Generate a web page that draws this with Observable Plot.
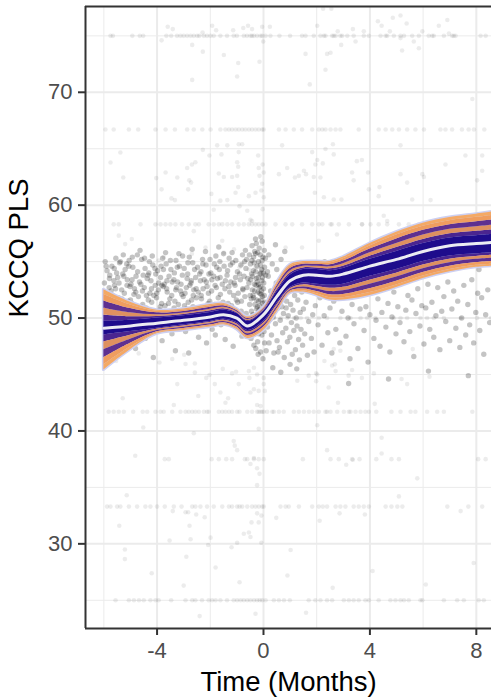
<!DOCTYPE html>
<html><head><meta charset="utf-8">
<script src="https://cdn.jsdelivr.net/npm/d3@7"></script>
<script src="https://cdn.jsdelivr.net/npm/@observablehq/plot@0.6"></script>
<style>body{margin:0;background:#fff}svg{display:block}</style>
</head><body><div id="chart"></div>
<script>
// ---------- axes / ticks ----------
const xDomain = [-6.69, 8.57];
const yDomain = [22.5, 77.6];
const xTicks = [-4, 0, 4, 8];
const xMinor = [-6, -2, 2, 6];
const yTicks = [30, 40, 50, 60, 70];
const yMinor = [25, 35, 45, 55, 65, 75];

// ---------- model curve (knots) ----------
const knotT   = [-6,-5,-4,-3,-2,-1.5,-1,-0.6,0,0.5,1,1.5,2,2.5,3,4,5,6,7,8,8.6];
const meanV   = [49.1,49.3,49.55,49.8,50.1,50.3,50.0,49.3,50.3,51.9,53.3,53.8,53.8,53.7,53.9,54.6,55.2,55.9,56.4,56.6,56.7];
const outerHi = [52.5,51.4,50.7,50.8,51.2,51.3,50.8,50.1,50.9,53.1,54.7,55.0,55.0,55.0,55.4,56.6,57.6,58.4,58.9,59.2,59.4];
const outerLo = [45.4,47.2,48.6,48.9,49.2,49.4,49.0,48.2,48.9,50.5,52.2,52.3,52.0,51.6,51.6,52.0,52.7,53.5,54.1,54.5,54.6];
const coreHi  = [49.7,49.8,50.0,50.2,50.5,50.7,50.4,49.7,50.6,52.3,53.8,54.3,54.3,54.2,54.4,55.2,55.9,56.6,57.1,57.3,57.4];
const coreLo  = [48.5,48.8,49.1,49.4,49.7,49.9,49.6,48.9,49.7,51.3,52.7,53.1,53.0,52.9,53.0,53.7,54.3,55.0,55.5,55.7,55.8];
// draw-stripe boundaries above the core (inner -> outer)
const up1 = [50.26,50.12,50.14,50.32,50.64,50.82,50.48,49.78,50.66,52.46,53.98,54.44,54.44,54.36,54.6,55.48,56.24,56.96,57.46,57.68,57.8];
const up2 = [50.88,50.47,50.29,50.45,50.79,50.95,50.57,49.87,50.73,52.64,54.18,54.59,54.59,54.54,54.82,55.79,56.61,57.36,57.86,58.1,58.24];
const up3 = [51.52,50.84,50.46,50.59,50.96,51.09,50.66,49.96,50.8,52.82,54.39,54.76,54.76,54.72,55.05,56.11,57.01,57.77,58.27,58.54,58.7];
const up4 = [52.08,51.16,50.6,50.71,51.1,51.21,50.74,50.04,50.86,52.98,54.57,54.9,54.9,54.88,55.25,56.39,57.35,58.13,58.63,58.92,59.1];
// draw-stripe boundaries below the core (inner -> outer)
const lo1 = [47.88,48.48,49.0,49.3,49.6,49.8,49.48,48.76,49.54,51.14,52.6,52.94,52.8,52.64,52.72,53.36,53.98,54.7,55.22,55.46,55.56];
const lo2 = [47.2,48.13,48.89,49.19,49.49,49.69,49.35,48.61,49.36,50.96,52.49,52.76,52.58,52.35,52.41,52.99,53.63,54.37,54.91,55.2,55.3];
const lo3 = [46.49,47.76,48.78,49.08,49.38,49.58,49.21,48.45,49.18,50.78,52.38,52.58,52.35,52.06,52.09,52.6,53.26,54.03,54.59,54.92,55.02];
const lo4 = [45.87,47.44,48.68,48.98,49.28,49.48,49.09,48.31,49.02,50.62,52.28,52.42,52.15,51.8,51.81,52.26,52.94,53.73,54.31,54.68,54.78];
const stripeColors = ["#4a2590", "#de9060", "#5e3090", "#ef9d5f", "#f4a965"];

// ---------- observations on discrete score levels ----------
const rowLevels = [75, 66.7, 58.3, 50, 41.7, 37.5, 33.3, 25];
const row75T  = [-5.75,-5.66,-4.93,-4.65,-4.52,-3.65,-3.47,-3.25,-3.12,-3.0,-2.87,-2.74,-2.62,-2.49,-2.41,-2.24,-2.12,-1.99,-1.87,-1.62,-1.37,-1.12,-1.0,-0.74,-0.62,-0.49,-0.43,-0.36,-0.24,-0.11,-0.05,0.08,0.26,0.6,1.0,1.45,1.58,1.89,2.14,2.27,2.33,2.58,2.64,2.71,2.89,2.96,3.15,3.39,3.77,3.96,4.4,4.59,4.65,4.9,5.15,5.28,5.59,5.84,6.21,6.34,6.4,6.78,7.09,7.15,7.22,8.16,8.35];
const row667T = [-5.94,-5.63,-5.06,-4.71,-4.06,-3.68,-3.33,-2.87,-2.62,-2.3,-1.99,-1.62,-1.43,-1.3,-1.18,-1.05,-0.93,-0.8,-0.68,-0.55,-0.43,-0.3,-0.18,-0.05,0.01,0.58,0.83,1.14,1.45,1.83,2.08,2.21,2.33,2.52,2.71,2.89,3.58,4.33,4.59,4.84,5.09,5.4,5.71,6.03,6.65,6.84,7.09,7.46,7.71,7.91,8.3];
const row583T = [-5.63,-5.44,-4.62,-4.06,-3.87,-3.68,-3.5,-3.31,-3.06,-2.81,-2.56,-2.43,-2.06,-1.87,-1.68,-1.55,-1.36,-1.18,-0.93,-0.74,-0.55,-0.43,-0.3,-0.18,-0.05,0.08,0.45,0.83,1.08,1.45,1.83,2.08,2.21,2.52,2.83,3.21,3.71,4.02,4.33,4.65,5.09,5.46,5.84,6.09,6.59,6.84,7.22,7.59,7.85,8.22,8.47];
const row50T  = [-5.95,-5.7,-5.45,-5.2,-4.9,-4.6,-4.3,-4.0,-3.7,-3.4,-3.1,-2.8,-2.5,-2.2,-1.9,-1.6,-1.3,-1.0,-0.75,-0.5,-0.35,-0.2,-0.1,-0.02,0.05,0.2,0.4,0.65,0.9,1.15,1.4,1.64,2.08,2.39,2.89,3.27,3.65,3.9,4.21,4.9,5.15,5.4,5.9,6.15,6.4,6.78,7.41,8.03,8.55];
const row417T = [-5.82,-5.63,-5.44,-5.25,-4.9,-4.54,-4.37,-4.06,-3.87,-3.75,-3.43,-3.12,-2.93,-2.81,-2.68,-2.56,-2.43,-2.24,-2.12,-2.06,-1.68,-1.55,-1.43,-1.3,-1.18,-0.99,-0.9,-0.61,-0.43,-0.24,-0.18,-0.11,-0.05,0.01,0.14,0.33,0.39,0.58,0.76,1.14,1.33,1.52,1.71,1.89,2.08,2.33,2.39,2.52,2.77,3.02,3.21,3.27,3.46,3.65,3.83,3.96,4.24,4.81,5.15,5.53,5.71,6.15,6.53,6.78,7.85];
const row375T = [-3.71,-3.56,-1.95,-1.68,-1.4,-1.18,-0.7,-0.61,-0.36,-0.18,0.01,1.48,2.52,2.83,3.33,3.61,4.24,4.81,5.09,8.07,8.35];
const row333T = [-5.88,-5.75,-5.5,-5.38,-5.06,-4.75,-4.44,-4.25,-4.0,-3.71,-3.37,-3.08,-2.68,-2.56,-2.37,-2.12,-1.87,-1.55,-1.3,-1.18,-0.99,-0.9,-0.8,-0.61,-0.43,-0.3,-0.18,-0.05,0.01,0.64,0.83,0.95,1.33,1.83,2.08,2.23,2.39,2.71,2.89,3.08,3.39,3.58,3.77,3.96,4.59,4.81,5.03,5.22,6.91,7.7,8.22];
const row25T  = [-5.56,-5.06,-4.87,-4.68,-4.5,-4.25,-4.06,-3.94,-3.47,-2.93,-2.68,-2.56,-2.31,-2.06,-1.93,-1.8,-1.62,-1.37,-1.12,-0.99,-0.86,-0.74,-0.61,-0.49,-0.36,-0.24,-0.14,-0.05,0.08,0.39,0.58,0.77,0.99,1.7,1.95,2.14,2.39,2.58,3.02,3.21,3.39,3.58,3.83,3.96,4.33,4.77,4.96,5.15,5.28,5.46,5.9,5.97,6.78,7.28,7.53,8.09,8.28];
const rowTimes = [row75T, row667T, row583T, row50T, row417T, row375T, row333T, row25T];

// ---------- scattered observations off the levels [time, score] ----------
const scatterPts = [
[-3.6,75.8],[-3.41,75.6],[-3.83,74.6],[-2.68,74.2],[-2.28,73.6],[-2.68,71.1],[-1.93,75.9],[-1.78,75.5],[-2.29,75.3],[-1.49,73.3],[-1.14,75.5],[-0.95,72.6],[-0.99,71.4],[-0.76,75.7],[-0.58,75.9],[-0.43,75.6],[-0.05,75.8],[-0.01,74.5],[-0.15,72.7],[0.24,75.8],
[2.24,77.4],[2.55,77.4],[2.02,75.9],[1.58,73.4],[1.74,70.7],[2.33,72.0],[2.39,73.4],[2.52,73.5],[2.79,75.4],[2.92,74.2],[3.36,75.6],[3.46,74.5],[3.77,75.4],[4.3,76.3],[4.44,75.9],[4.86,76.6],[5.15,76.8],[5.38,76.1],[4.75,75.4],[5.15,74.8],[5.21,73.7],[5.65,74.5],[5.84,73.9],[5.97,75.4],[6.59,75.9],[6.91,76.4],[6.97,75.2],[7.85,69.4],
[-5.38,64.67],[-5.75,63.78],[-5.27,62.45],[-4.03,62.4],[-3.68,62.9],[-3.83,61.4],[-3.46,60.6],[-3.33,60.45],[-3.24,62.45],[-2.87,63.3],[-2.72,62.0],[-2.79,62.2],[-2.69,63.6],[-2.56,63.8],[-2.83,61.4],[-2.28,64.9],[-2.03,64.4],[-1.74,65.3],[-1.36,65.3],[-1.58,64.5],[-1.96,61.0],[-1.87,59.6],[-1.68,62.8],[-1.49,62.5],[-1.18,62.5],[-1.62,60.4],[-1.36,60.45],
[-0.93,65.4],[-0.8,65.4],[-0.93,64.7],[-0.99,63.8],[-0.95,63.4],[-0.99,62.6],[-0.95,61.6],[-1.05,61.1],[-0.9,59.9],[-0.55,60.8],[-0.3,61.1],[-0.61,59.5],[-0.49,58.7],[-0.43,58.6],[-0.2,64.4],[-0.18,63.3],[-0.15,62.6],[-0.03,63.6],[0.01,62.9],[-0.05,61.9],[-0.08,61.3],[0.01,60.7],[-0.03,59.65],
[0.7,65.3],[0.89,63.3],[0.58,62.75],[1.18,62.45],[1.33,62.6],[1.52,63.05],[1.6,62.75],[1.89,62.5],[1.95,63.6],[1.83,64.7],[2.02,64.0],[2.23,63.7],[2.61,65.4],[2.64,64.5],[2.33,64.97],[2.14,62.45],[1.93,61.1],[2.27,60.7],[2.64,60.5],[2.93,60.5],[3.39,62.2],[3.33,62.9],[3.51,63.9],[3.7,64.0],[3.93,62.9],[3.96,61.4],[4.36,61.6],[4.33,60.8],
[5.15,65.3],[5.15,62.75],[5.4,62.0],[5.97,62.75],[6.03,62.5],[5.59,60.5],[6.28,60.45],[6.84,63.6],[7.59,64.4],[8.22,64.4],[8.22,63.05],[8.03,62.2],[4.52,59.06],[4.65,58.6],[3.7,58.3],[2.76,57.4],[2.57,58.3],[2.08,56.85],[0.83,56.25],[1.45,56.25],
[-5.44,57.3],[-5.2,56.55],[-4.95,57.0],[-3.75,55.4],[-3.94,55.1],[-2.69,55.7],[-2.62,57.7],[-2.18,56.25],[-1.55,56.85],[-1.49,55.8],[-1.11,56.1],[-0.9,54.5],[-0.8,54.8],[-0.55,54.3],[-0.3,54.5],[-0.05,54.3],
[-4.69,46.87],[-5.54,46.2],[-3.91,46.07],[-3.43,46.37],[-2.98,46.75],[-2.93,45.93],[-2.58,45.98],[-2.58,45.18],[-3.24,44.15],[-3.37,42.3],[-4.52,40.3],[-4.82,37.8],[-5.29,42.9],[-5.14,34.3],[-5.42,31.6],[-5.21,29.5],[-5.21,28.65],
[-2.45,43.1],[-2.15,44.7],[-2.03,44.95],[-1.83,44.15],[-1.62,43.4],[-1.43,42.5],[-1.33,42.9],[-1.53,45.5],[-1.18,45.1],[-1.03,45.25],[-0.93,44.15],[-0.53,44.7],[-0.36,45.6],[-0.24,45.0],[-0.55,45.3],[-0.49,43.4],[-0.36,43.7],[-0.18,43.55],[-0.24,42.3],[0.01,44.7],[0.01,44.15],[0.05,43.55],
[-2.62,39.8],[-1.12,39.1],[-1.08,38.7],[-0.99,38.3],[-0.36,37.6],[-0.49,37.07],[-0.24,36.7],[-0.15,36.2],[-0.24,35.2],[-0.11,42.2],[-0.18,40.2],
[-3.41,32.9],[-2.93,32.8],[-2.83,32.8],[-2.53,32.6],[-2.21,32.35],[-2.78,31.6],[-2.9,28.85],[-3.53,30.3],[-2.74,30.4],[-2.08,29.9],[-1.99,30.55],[-1.2,29.7],[-0.99,30.1],[-0.74,30.9],[-0.45,31.9],[-0.18,31.9],[-0.24,32.7],[-0.55,31.0],[-0.49,30.6],[-0.08,30.1],[-0.08,32.5],[0.48,32.3],[1.02,29.45],[2.11,32.05],[2.86,32.7],[3.81,32.6],[5.09,34.2],[7.41,32.9],
[1.27,44.45],[1.7,44.9],[1.98,45.1],[1.98,44.4],[2.45,43.85],[2.29,46.2],[2.58,45.8],[2.68,45.9],[2.71,45.3],[2.89,47.1],[2.64,47.25],[2.8,42.5],[3.2,44.9],[3.33,45.4],[3.7,44.7],[4.15,45.1],[4.18,42.4],[4.44,39.4],[4.44,38.0],[2.39,38.3],[3.11,37.0],[3.36,37.45],[5.19,44.6],[5.4,44.15],[5.61,47.25],[5.78,35.8],[6.24,44.8],[2.02,40.5],[2.02,45.0],
[-4.2,27.4],[-3.0,26.3],[-1.8,27.9],[-0.9,26.6],[-0.3,23.8],[0.9,27.2],[2.6,26.1],[4.1,27.6],[6.1,26.4],[7.9,28.3],[-2.4,23.6],[1.6,23.9]
];

// ---------- dense cloud of observations [time, score] ----------
const cloudPts = [
[-5.98,53.1],[-5.93,51.6],[-5.88,54.2],[-5.84,50.8],[-5.8,52.7],[-5.95,55.0],[-5.78,53.8],[-5.9,49.9],[-5.86,47.6],[-5.76,51.9],
[-5.73,52.4],[-5.7,54.6],[-5.66,50.6],[-5.62,53.3],[-5.58,51.2],[-5.55,55.3],[-5.68,48.9],[-5.6,52.9],[-5.52,54.0],[-5.64,46.8],
[-5.48,53.6],[-5.45,51.8],[-5.41,54.9],[-5.37,50.3],[-5.33,52.5],[-5.29,53.9],[-5.44,49.6],[-5.27,55.6],[-5.35,51.1],[-5.31,47.9],
[-5.23,52.2],[-5.2,54.3],[-5.16,50.9],[-5.12,53.4],[-5.09,51.5],[-5.05,55.1],[-5.18,48.4],[-5.02,52.8],[-5.14,54.8],[-5.07,50.1],
[-4.98,53.0],[-4.95,51.3],[-4.91,54.5],[-4.87,52.1],[-4.83,49.4],[-4.79,53.7],[-4.93,55.4],[-4.77,50.7],[-4.85,52.6],[-4.81,47.3],
[-4.73,54.1],[-4.7,51.9],[-4.66,53.2],[-4.62,50.4],[-4.58,55.2],[-4.55,52.4],[-4.68,49.1],[-4.52,53.8],[-4.6,51.0],[-4.64,56.0],
[-4.48,52.7],[-4.45,54.4],[-4.41,50.9],[-4.37,53.5],[-4.33,51.6],[-4.29,55.0],[-4.44,48.2],[-4.27,52.2],[-4.35,49.8],[-4.31,54.0],
[-4.23,53.3],[-4.2,51.4],[-4.16,54.7],[-4.12,52.0],[-4.09,50.2],[-4.05,53.9],[-4.18,55.5],[-4.02,51.8],[-4.14,46.5],[-4.07,52.9],
[-3.98,54.2],[-3.95,52.5],[-3.91,50.7],[-3.87,53.6],[-3.83,51.3],[-3.79,55.3],[-3.93,49.3],[-3.77,52.8],[-3.85,54.6],[-3.81,48.0],
[-3.73,53.0],[-3.7,51.1],[-3.66,54.8],[-3.62,52.3],[-3.58,50.0],[-3.55,53.7],[-3.68,55.8],[-3.52,51.7],[-3.6,49.0],[-3.64,52.6],
[-3.48,54.3],[-3.45,52.0],[-3.41,50.5],[-3.37,53.4],[-3.33,51.5],[-3.29,55.1],[-3.44,48.6],[-3.27,52.7],[-3.35,54.0],[-3.31,47.1],
[-3.23,53.2],[-3.2,51.2],[-3.16,54.6],[-3.12,52.4],[-3.09,50.3],[-3.05,53.8],[-3.18,55.7],[-3.02,51.9],[-3.14,49.5],[-3.07,52.1],
[-2.98,54.4],[-2.95,52.2],[-2.91,50.8],[-2.87,53.5],[-2.83,51.4],[-2.79,55.4],[-2.93,48.8],[-2.77,52.9],[-2.85,53.9],[-2.81,46.9],
[-2.73,53.1],[-2.7,51.6],[-2.66,54.9],[-2.62,52.5],[-2.58,50.1],[-2.55,53.6],[-2.68,56.1],[-2.52,51.8],[-2.6,49.2],[-2.64,52.0],
[-2.48,54.5],[-2.45,52.3],[-2.41,50.6],[-2.37,53.3],[-2.33,51.7],[-2.29,55.2],[-2.44,48.3],[-2.27,52.6],[-2.35,54.1],[-2.31,49.7],
[-2.23,53.4],[-2.2,51.0],[-2.16,54.7],[-2.12,52.8],[-2.09,50.4],[-2.05,53.9],[-2.18,55.9],[-2.02,51.5],[-2.14,47.8],[-2.07,52.2],
[-1.98,54.0],[-1.95,52.4],[-1.91,50.9],[-1.87,53.7],[-1.83,51.2],[-1.79,55.5],[-1.93,49.0],[-1.77,52.7],[-1.85,54.8],[-1.81,48.5],
[-1.73,53.5],[-1.7,51.8],[-1.66,54.3],[-1.62,52.1],[-1.58,50.2],[-1.55,53.0],[-1.68,56.3],[-1.52,51.4],[-1.6,49.4],[-1.64,55.0],
[-1.48,54.6],[-1.45,52.6],[-1.41,50.7],[-1.37,53.8],[-1.33,51.3],[-1.29,55.3],[-1.44,48.1],[-1.27,52.3],[-1.35,54.2],[-1.31,49.9],
[-1.23,53.2],[-1.2,51.1],[-1.16,54.9],[-1.12,52.0],[-1.09,50.5],[-1.05,53.6],[-1.18,55.8],[-1.02,51.6],[-1.14,47.5],[-1.07,52.9],
[-0.98,54.1],[-0.95,52.2],[-0.91,50.3],[-0.87,53.4],[-0.83,51.5],[-0.79,55.6],[-0.93,49.2],[-0.77,52.5],[-0.85,54.7],[-0.81,48.4],
[-0.73,53.7],[-0.7,51.9],[-0.66,54.4],[-0.62,52.7],[-0.58,50.0],[-0.55,53.1],[-0.68,56.0],[-0.52,51.2],[-0.6,48.7],[-0.64,55.2],
[-5.96,52.3],[-5.91,54.6],[-5.83,51.0],[-5.79,53.5],[-5.71,50.2],[-5.67,52.0],[-5.61,54.4],[-5.56,52.6],[-5.5,50.9],[-5.43,53.1],[-5.38,55.0],[-5.32,51.7],[-5.25,53.7],[-5.19,50.5],[-5.13,52.9],[-5.06,54.6],[-5.0,51.6],[-4.94,53.4],[-4.88,50.3],[-4.8,52.3],
[-4.74,55.6],[-4.67,50.8],[-4.61,53.0],[-4.54,51.2],[-4.47,55.3],[-4.4,52.0],[-4.34,53.8],[-4.28,50.6],[-4.21,52.6],[-4.15,50.0],[-4.08,54.4],[-4.01,52.2],[-3.94,53.1],[-3.88,51.0],[-3.82,52.9],[-3.76,54.3],[-3.69,50.4],[-3.63,53.3],[-3.57,51.3],[-3.5,55.1],
[-3.43,53.2],[-3.36,50.9],[-3.3,52.5],[-3.24,54.5],[-3.17,50.1],[-3.1,53.0],[-3.04,55.5],[-2.97,51.1],[-2.9,52.7],[-2.84,54.9],[-2.78,50.4],[-2.71,53.3],[-2.65,51.0],[-2.59,54.3],[-2.53,52.6],[-2.46,50.0],[-2.4,53.9],[-2.34,52.0],[-2.28,54.8],[-2.21,50.8],
[-2.15,53.2],[-2.08,51.3],[-2.01,55.2],[-1.94,53.4],[-1.88,51.0],[-1.82,52.9],[-1.76,54.5],[-1.69,50.6],[-1.63,53.6],[-1.57,51.1],[-1.5,55.7],[-1.43,53.3],[-1.37,50.5],[-1.3,52.8],[-1.24,54.7],[-1.17,50.9],[-1.1,53.1],[-1.04,55.1],[-0.97,51.4],[-0.9,53.9],
[-0.84,50.6],[-0.78,52.6],[-0.71,55.0],[-0.65,50.4],[-0.59,53.5],[-0.53,55.6],
[-0.48,53.4],[-0.46,51.7],[-0.44,55.1],[-0.42,52.5],[-0.4,50.3],[-0.38,54.2],[-0.36,49.1],[-0.34,53.0],[-0.32,51.2],[-0.3,55.7],[-0.28,52.9],[-0.26,50.8],[-0.24,54.6],[-0.22,47.9],[-0.2,53.6],[-0.18,51.5],[-0.16,56.2],[-0.14,52.2],[-0.12,49.6],[-0.1,54.0],[-0.08,50.5],[-0.06,53.3],[-0.04,51.9],[-0.02,55.4],[0.0,52.6],[0.02,48.8],[0.04,54.5],[0.06,50.9],[0.08,53.8],
[-0.47,48.2],[-0.43,56.4],[-0.39,52.0],[-0.35,54.9],[-0.31,50.0],[-0.27,53.5],[-0.23,51.0],[-0.19,55.0],[-0.15,49.9],[-0.11,52.8],[-0.07,54.3],[-0.03,50.1],[0.01,53.1],[0.05,51.4],[-0.45,50.6],[-0.37,51.8],[-0.29,47.3],[-0.21,52.3],[-0.13,53.9],[-0.05,56.8],[0.03,52.0],[-0.41,53.7],[-0.33,55.9],[-0.25,49.4],[-0.17,50.7],[-0.09,51.6],[-0.01,49.2],[-0.49,54.8],[-0.12,55.6],[-0.06,48.5],[-0.2,46.8],[0.07,55.3],[-0.02,46.4],[-0.1,57.2],[-0.3,57.0],[-0.04,53.6],[-0.16,52.7],[-0.24,53.2],[-0.08,52.4],[0.0,50.4],[-0.14,51.1],
[-0.5,52.0],[-0.45,53.9],[-0.41,49.6],[-0.37,55.4],[-0.33,52.4],[-0.29,54.1],[-0.26,51.6],[-0.22,55.8],[-0.19,53.0],[-0.15,50.4],[-0.12,54.7],[-0.09,52.1],[-0.05,55.1],[-0.03,51.3],[0.0,54.0],[0.03,56.0],[-0.07,49.7],[-0.18,48.6],[-0.27,56.6],[-0.36,47.6],[-0.11,47.0],[0.04,47.8],
[0.12,51.3],[0.15,49.2],[0.18,53.7],[0.21,47.8],[0.24,50.6],[0.27,52.4],[0.3,48.5],[0.33,54.8],[0.36,50.1],[0.39,46.9],[0.42,51.8],[0.45,49.5],[0.48,53.1],[0.51,48.0],[0.54,50.9],[0.57,52.2],[0.6,47.4],[0.63,49.8],[0.66,55.2],[0.69,51.0],[0.72,48.7],[0.75,50.4],[0.78,46.5],[0.81,52.7],[0.84,49.1],[0.87,51.5],[0.9,47.9],[0.93,50.2],[0.96,53.4],[0.99,48.3],
[1.02,51.2],[1.05,49.6],[1.08,46.8],[1.11,50.7],[1.14,48.9],[1.17,52.0],[1.2,47.2],[1.23,50.0],[1.26,49.3],[1.29,51.6],[1.32,48.1],[1.35,46.3],[1.38,50.5],[1.41,49.0],[1.44,52.3],[1.47,47.6],[1.5,50.8],[1.55,48.6],[1.6,51.4],[1.65,46.7],[1.7,49.7],[1.75,52.6],[1.8,48.2],[1.85,50.3],[1.9,47.0],[1.95,51.1],
[0.2,55.6],[0.5,54.3],[0.8,55.9],[0.35,45.6],[0.65,45.2],[1.0,45.9],[0.1,47.1],[0.25,49.9],[0.55,47.0],[0.85,50.9],[1.25,45.5],[1.58,53.0],[0.45,56.5],[0.15,54.1],
[2.05,49.4],[2.12,51.8],[2.2,47.6],[2.28,50.2],[2.35,52.9],[2.42,48.7],[2.5,50.9],[2.57,46.9],[2.64,51.5],[2.72,49.0],[2.8,53.3],[2.87,47.8],[2.95,50.6],[3.02,52.1],[3.1,48.4],[3.18,50.0],[3.25,46.4],[3.33,51.2],[3.4,49.5],[3.48,53.6],
[3.55,47.3],[3.63,50.8],[3.7,52.5],[3.78,48.9],[3.85,51.0],[3.93,46.1],[4.0,50.3],[4.08,52.8],[4.15,48.2],[4.23,49.8],[4.3,51.7],[4.38,47.5],[4.45,50.5],[4.53,53.1],[4.6,49.2],[4.68,51.3],[4.75,47.0],[4.83,50.1],[4.9,52.3],[4.98,48.6],
[5.05,51.0],[5.13,49.6],[5.2,53.5],[5.28,47.9],[5.35,50.7],[5.43,52.0],[5.5,48.8],[5.58,51.6],[5.65,46.6],[5.73,50.4],[5.8,52.6],[5.88,49.3],[5.95,51.1],[6.03,47.7],[6.1,50.9],[6.18,53.0],[6.25,49.0],[6.33,51.4],[6.4,48.3],[6.48,50.2],
[6.55,52.7],[6.63,47.2],[6.7,50.6],[6.78,51.9],[6.85,49.7],[6.93,53.2],[7.0,48.0],[7.08,50.8],[7.15,52.4],[7.23,49.1],[7.3,51.5],[7.38,47.4],[7.45,50.0],[7.53,52.9],[7.6,48.5],[7.68,51.2],[7.75,49.4],[7.83,53.4],[7.9,47.8],[7.98,50.5],
[8.05,52.2],[8.13,48.9],[8.2,51.8],[8.28,46.8],[8.35,50.3],[8.43,52.5],[8.5,49.6],[2.3,55.0],[3.0,54.8],[3.6,55.4],[4.4,55.2],[5.1,54.9],[5.9,55.6],[6.6,54.6],[7.4,55.1],[8.1,54.3],[4.7,44.6],[6.2,45.3],[7.7,44.9],[3.2,44.2]
];

// ---------- build tables ----------
const obs = [];
rowLevels.forEach((lv, i) => rowTimes[i].forEach(t => obs.push({t, v: lv})));
scatterPts.forEach(([t, v]) => obs.push({t, v}));
const cloud = cloudPts.map(([t, v]) => ({t, v}));
const band = knotT.map((t, i) => ({t, mean: meanV[i], oHi: outerHi[i], oLo: outerLo[i], cHi: coreHi[i], cLo: coreLo[i]}));
// stripes: pairs of boundaries, inner -> outer
const upB = [coreHi, up1, up2, up3, up4, outerHi];
const loB = [coreLo, lo1, lo2, lo3, lo4, outerLo];
const stripes = [];
for (let s = 0; s < 5; s++) {
  knotT.forEach((t, i) => {
    stripes.push({t, s, side: "up", a: upB[s][i], b: upB[s + 1][i]});
    stripes.push({t, s, side: "lo", a: loB[s + 1][i], b: loB[s][i]});
  });
}

const curve = "catmull-rom";
const font = "'Liberation Sans', Arial, Helvetica, sans-serif";

const chart = Plot.plot({
  width: 491, height: 699,
  marginLeft: 85, marginRight: 0, marginTop: 6, marginBottom: 71,
  style: {fontFamily: font, background: "#ffffff", overflow: "visible"},
  x: {domain: xDomain},
  y: {domain: yDomain},
  marks: [
    // grid
    Plot.ruleX(xMinor, {stroke: "#ebebeb", strokeWidth: 1}),
    Plot.ruleY(yMinor, {stroke: "#ebebeb", strokeWidth: 1}),
    Plot.ruleX(xTicks, {stroke: "#ebebeb", strokeWidth: 2}),
    Plot.ruleY(yTicks, {stroke: "#ebebeb", strokeWidth: 2}),
    // observations
    Plot.dot(obs, {x: "t", y: "v", r: 2.3, fill: "#000", fillOpacity: 0.075, stroke: null}),
    Plot.dot(cloud, {x: "t", y: "v", r: 2.7, fill: "#000", fillOpacity: 0.23, stroke: null}),
    // posterior draws band
    Plot.areaY(band, {x: "t", y1: "oLo", y2: "oHi", curve, fill: "#cdd0f2", stroke: "#cdd0f2", strokeWidth: 3}),
    Plot.areaY(stripes, {x: "t", y1: "a", y2: "b", z: d => d.side + d.s, fill: d => stripeColors[d.s], curve}),
    Plot.areaY(band, {x: "t", y1: "cLo", y2: "cHi", curve, fill: "#1e0c8c"}),
    Plot.line(band, {x: "t", y: "mean", curve, stroke: "#ececf3", strokeWidth: 3}),
    // panel border (left, top, bottom)
    Plot.ruleX([xDomain[0]], {stroke: "#333333", strokeWidth: 2}),
    Plot.ruleY([yDomain[0], yDomain[1]], {stroke: "#333333", strokeWidth: 2}),
    // axes
    Plot.axisX(xTicks, {tickSize: 7, tickPadding: 7, fontSize: 22, stroke: "#333333", strokeWidth: 2, fill: "#4d4d4d", tickFormat: d => String(d), label: null}),
    Plot.axisY(yTicks, {tickSize: 7, tickPadding: 6, fontSize: 22, stroke: "#333333", strokeWidth: 2, fill: "#4d4d4d", tickFormat: d => String(d), label: null}),
    // axis titles
    Plot.text(["Time (Months)"], {frameAnchor: "bottom", dy: 54, fontSize: 27.5, fill: "#000", lineAnchor: "middle"}),
    Plot.text(["KCCQ PLS"], {frameAnchor: "left", dx: -66, rotate: -90, fontSize: 27.5, fill: "#000", lineAnchor: "middle"})
  ]
});
document.getElementById("chart").appendChild(chart);
</script>
</body></html>
